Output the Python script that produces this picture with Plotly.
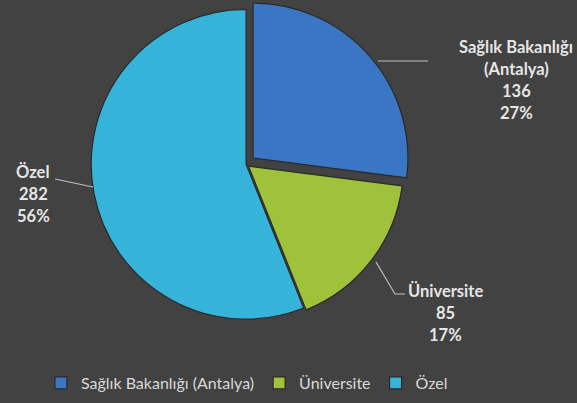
import plotly.graph_objects as go

labels = ["Sağlık Bakanlığı (Antalya)", "Üniversite", "Özel"]
values = [136, 85, 282]
percents = ["27%", "17%", "56%"]
colors = ["#3a76c4", "#9fc23a", "#36b3d8"]
pulls = [0.06, 0.02, 0.0]

W, H = 577, 403
def px(x):
    return x / W
def py(y):
    return 1 - y / H

fig = go.Figure()
fig.add_trace(go.Pie(
    labels=labels, values=values, sort=False, direction="clockwise", rotation=0,
    marker=dict(colors=colors, line=dict(color="#2a2a2a", width=1.2)),
    pull=pulls, textinfo="none", hoverinfo="label+value+percent",
    domain=dict(x=[0.142, 0.711], y=[0.185, 1.0]),
))

# label positions (pixel centers) and leader lines
label_pos = [(516, 47), (445, 291), (33, 172)]
leaders = [
    [(378, 61), (428, 61)],
    [(376, 262), (395, 294), (405, 294)],
    [(93, 187), (55, 179)],
]
font = dict(family="Lato, 'Open Sans', sans-serif", size=16.5, color="#e6e6e6")
for i, lab in enumerate(labels):
    if " (" in lab:
        a, b = lab.split(" (", 1)
        lines = [a, "(" + b]
    else:
        lines = [lab]
    lines += [str(values[i]), percents[i]]
    cx, cy = label_pos[i]
    for j, t in enumerate(lines):
        fig.add_annotation(x=px(cx), y=py(cy + 22 * j), xref="paper", yref="paper",
                           text="<b>" + t + "</b>", showarrow=False, font=font,
                           xanchor="center", yanchor="middle")
    pts = leaders[i]
    path = "M " + " L ".join(f"{px(x)},{py(y)}" for x, y in pts)
    fig.add_shape(type="path", path=path, xref="paper", yref="paper",
                  line=dict(color="#bfbfbf", width=1.2))

fig.update_layout(
    width=W, height=H, margin=dict(l=0, r=0, t=0, b=0),
    paper_bgcolor="#424242", plot_bgcolor="#424242",
    showlegend=True,
    legend=dict(orientation="h", x=0.071, y=py(383), xanchor="left", yanchor="middle",
                font=dict(family="Lato, 'Open Sans', sans-serif", size=16, color="#d9d9d9"),
                bgcolor="rgba(0,0,0,0)", itemwidth=30),
)
fig.write_html("out.html", config={"displayModeBar": False},
               post_script="document.body.style.margin='0';document.body.style.overflow='hidden';")
